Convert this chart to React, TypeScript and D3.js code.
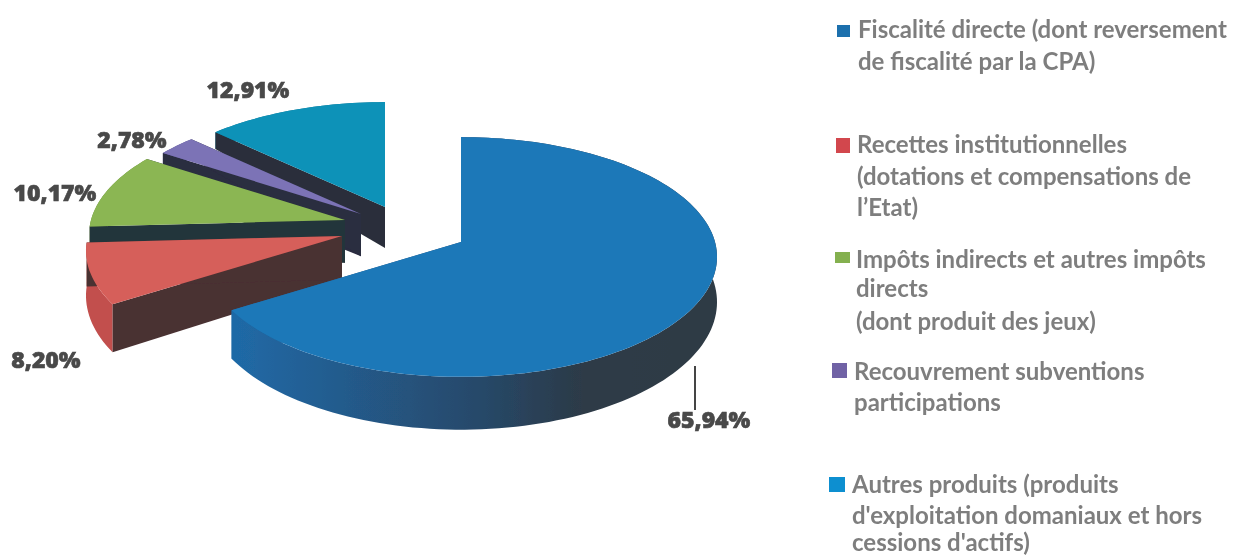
import React from "react";
import * as d3 from "d3";

// ---- data ----
const categories = [
  "Fiscalité directe",
  "Recettes institutionnelles",
  "Impôts indirects",
  "Recouvrement subventions",
  "Autres produits",
];
const values = [65.94, 8.2, 10.17, 2.78, 12.91];
const valueLabels = ["65,94%", "8,20%", "10,17%", "2,78%", "12,91%"];
const legendLines = [
  ["Fiscalité directe (dont reversement", "de fiscalité par la CPA)"],
  ["Recettes institutionnelles", "(dotations et compensations de", "l’Etat)"],
  ["Impôts indirects et autres impôts", "directs", "(dont produit des jeux)"],
  ["Recouvrement subventions", "participations"],
  ["Autres produits (produits", "d'exploitation domaniaux et hors", "cessions d'actifs)"],
];

// ---- styles and layout ----
const topColors = ["#1f78b8", "#d65f5a", "#8bb653", "#7b73b6", "#1092b8"];
const cutColors = ["url(#mainWall)", "#4a3032", "#24353a", "#2b2d40", "#2a2f3a"];
const outerColors = ["url(#mainWall)", "#c24f4d", "#6d8f42", "#5d5690", "#0e7591"];
const swatchColors = ["#1f6fad", "#d2474e", "#84b04f", "#6f62a5", "#0b8fd0"];
const apex: [number, number][] = [
  [461, 242],
  [342, 236],
  [345, 220],
  [361, 214],
  [385, 207],
];
const labelPos: [number, number][] = [
  [709, 428],
  [46, 368],
  [55, 201],
  [132, 148],
  [248, 98],
];
const legendRows = [
  { swatch: [837, 25, 13, 12], x: 858, ys: [38, 70] },
  { swatch: [836, 138, 14, 15], x: 857, ys: [153, 185, 216] },
  { swatch: [835, 252, 15, 11], x: 856, ys: [268, 297, 330] },
  { swatch: [832, 363, 15, 15], x: 854, ys: [380, 411] },
  { swatch: [829, 477, 16, 15], x: 852, ys: [493, 524, 551] },
];

const RX = 254;
const RY = 118;
const PERSP = 0.125;
const depth = d3.scaleLinear().domain([130, 210, 380]).range([16, 42, 53]).clamp(true);
const line = d3.line<[number, number]>();

function project(a: number, o: [number, number]): [number, number] {
  const X = Math.sin(a);
  const Y = -Math.cos(a);
  const k = 1 - PERSP * Y;
  return [o[0] + (RX * X) / k, o[1] + (RY * Y) / k];
}
const down = (p: [number, number]): [number, number] => [p[0], p[1] + depth(p[1])];

const slices = d3.pie<number>().sort(null).startAngle(0).endAngle(2 * Math.PI)(values);

function geometry(i: number) {
  const s = slices[i];
  const o = apex[i];
  const n = Math.max(6, Math.ceil((s.endAngle - s.startAngle) / 0.03));
  const arc = d3.range(n + 1).map((k) => project(s.startAngle + ((s.endAngle - s.startAngle) * k) / n, o));
  const top = line([o, ...arc])! + "Z";
  const outer = line([...arc, ...arc.map(down).reverse()])! + "Z";
  const cutA = line([o, arc[0], down(arc[0]), down(o)])! + "Z";
  const cutB = line([o, arc[n], down(arc[n]), down(o)])! + "Z";
  return { top, outer, cutA, cutB };
}

export default function App() {
  const order = [4, 3, 2, 1, 0];
  return (
    <svg
      width={1237}
      height={557}
      style={{ position: "absolute", left: 0, top: 0, display: "block", background: "#ffffff" }}
    >
      <defs>
        <linearGradient id="mainWall" gradientUnits="userSpaceOnUse" x1={237} x2={718} y1={0} y2={0}>
          <stop offset="0" stopColor="#1f69a6" />
          <stop offset="0.22" stopColor="#245b8c" />
          <stop offset="0.5" stopColor="#26496a" />
          <stop offset="0.72" stopColor="#2d3a47" />
          <stop offset="1" stopColor="#2e3a44" />
        </linearGradient>
        <filter id="soft" x="-5%" y="-5%" width="110%" height="110%">
          <feGaussianBlur stdDeviation="0.7" />
        </filter>
      </defs>
      <g filter="url(#soft)">
        {order.map((i) => {
          const g = geometry(i);
          return (
            <g key={categories[i]}>
              <path d={g.outer} fill={outerColors[i]} />
              <path d={g.cutA} fill={cutColors[i]} />
              <path d={g.cutB} fill={cutColors[i]} />
              <path d={g.top} fill={topColors[i]} />
            </g>
          );
        })}
        <line x1={695} x2={695} y1={366} y2={410} stroke="#444" strokeWidth={2} />
      </g>
      <g
        fontFamily="'Open Sans', sans-serif"
        fontWeight={800}
        fontSize={23}
        fill="#484848"
        stroke="#484848"
        strokeWidth={0.6}
        textAnchor="middle"
        filter="url(#soft)"
      >
        {valueLabels.map((t, i) => (
          <text key={t} x={labelPos[i][0]} y={labelPos[i][1]}>
            {t}
          </text>
        ))}
      </g>
      <g fontFamily="Lato, sans-serif" fontWeight={700} fontSize={24} fill="#7e7e7e" filter="url(#soft)">
        {legendRows.map((r, i) => (
          <g key={categories[i]}>
            <rect x={r.swatch[0]} y={r.swatch[1]} width={r.swatch[2]} height={r.swatch[3]} fill={swatchColors[i]} />
            {legendLines[i].map((l, j) => (
              <text key={l} x={r.x} y={r.ys[j]}>
                {l}
              </text>
            ))}
          </g>
        ))}
      </g>
    </svg>
  );
}
